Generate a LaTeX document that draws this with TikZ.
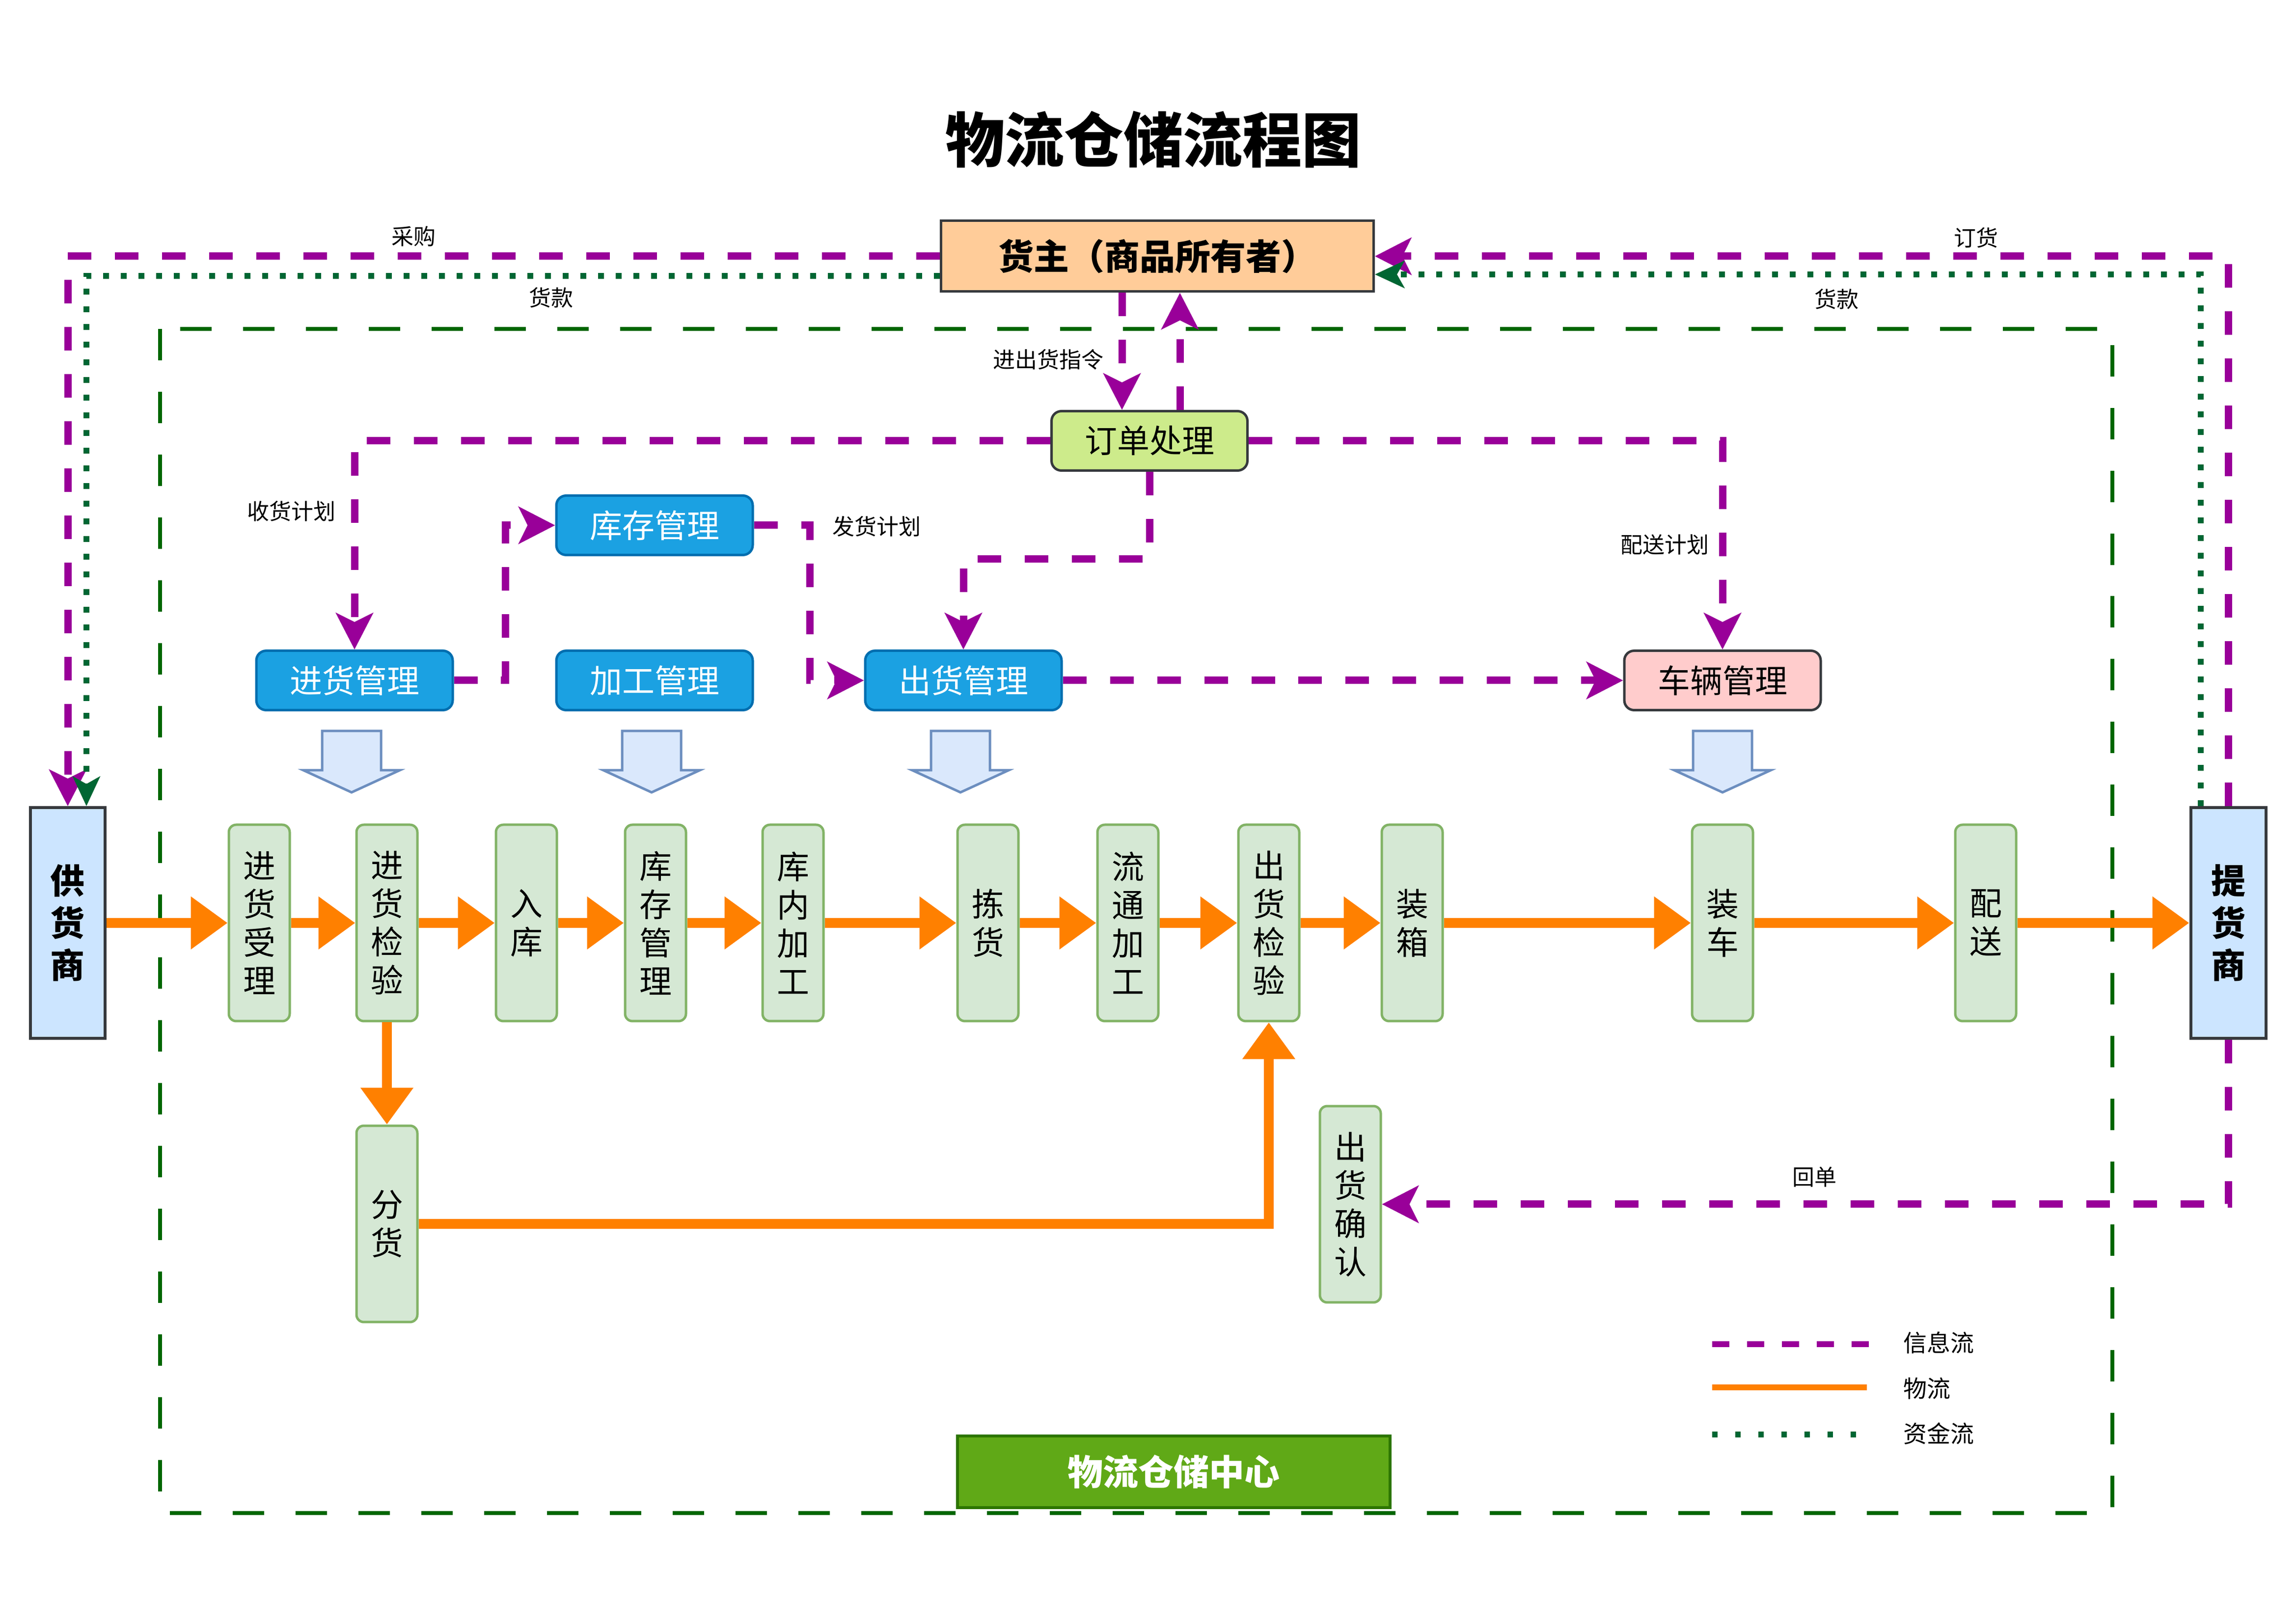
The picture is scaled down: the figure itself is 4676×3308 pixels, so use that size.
\documentclass[tikz,border=0pt]{standalone}
\usepackage{fontspec}
\setmainfont{Noto Sans CJK SC}
\usetikzlibrary{arrows.meta,calc}
\definecolor{infoc}{HTML}{990099}
\definecolor{flowc}{HTML}{FF8000}
\definecolor{moneyc}{HTML}{006633}
\definecolor{bordc}{HTML}{006600}
\definecolor{darkb}{HTML}{36393D}
\definecolor{procfill}{HTML}{D5E8D4}
\definecolor{procdraw}{HTML}{82B366}
\definecolor{mgmtfill}{HTML}{1BA1E2}
\definecolor{mgmtdraw}{HTML}{006EAF}
\definecolor{ownerfill}{HTML}{FFCC99}
\definecolor{orderfill}{HTML}{CDEB8B}
\definecolor{vehfill}{HTML}{FFCCCC}
\definecolor{partyfill}{HTML}{CCE5FF}
\definecolor{centerfill}{HTML}{60A917}
\definecolor{centerdraw}{HTML}{2D7600}
\definecolor{arrfill}{HTML}{DAE8FC}
\definecolor{arrdraw}{HTML}{6C8EBF}
\begin{document}
\begin{tikzpicture}[x=0.1pt,y=-0.1pt,
  infoline/.style={draw=infoc,line width=1.5pt,dash pattern=on 4.8pt off 4.8pt,-{Stealth[length=7.4pt,width=7.5pt,inset=1.8pt]}},
  flowline/.style={draw=flowc,line width=2pt,-{Triangle[length=7.5pt,width=10.3pt]}},
  moneyline/.style={draw=moneyc,line width=1.2pt,dash pattern=on 1.2pt off 2.4pt,-{Stealth[length=6pt,width=5.5pt,inset=1.5pt]}},
  procbox/.style={draw=procdraw,fill=procfill,rounded corners=1.5pt,line width=0.5pt,minimum width=12.4pt,minimum height=40pt,inner sep=0pt,align=center,font=\fontsize{6.6}{7.8}\selectfont},
  mgmtbox/.style={draw=mgmtdraw,fill=mgmtfill,text=white,rounded corners=2pt,line width=0.5pt,minimum width=40pt,minimum height=12.1pt,inner sep=0pt,font=\fontsize{6.6}{7.8}\selectfont},
  partybox/.style={draw=darkb,fill=partyfill,line width=0.6pt,minimum width=15.3pt,minimum height=47pt,inner sep=0pt,align=center,font=\fontsize{7}{8.6}\selectfont\bfseries},
  lbl/.style={inner sep=0pt,font=\fontsize{4.5}{5.4}\selectfont},
  legendtext/.style={inner sep=0pt,font=\fontsize{4.8}{5.6}\selectfont},
  blockarrow/.style={fill=arrfill,draw=arrdraw,line width=0.5pt,line join=miter},
  downarrow/.pic={\draw[blockarrow] (-60,0) -- (60,0) -- (60,80) -- (98,80) -- (0,125) -- (-98,80) -- (-60,80) -- cycle;}
]
\useasboundingbox (0,0) rectangle (4676,3308);
\fill[white] (0,0) rectangle (4676,3308);

% boundary of the warehouse centre
\draw[draw=bordc,line width=0.8pt,dash pattern=on 6.4pt off 6.4pt] (326,670) rectangle (4302,3082);

% title
\node[font=\fontsize{12.1}{14}\selectfont\bfseries,inner sep=0pt] (title) at (2349,284) {物流仓储流程图};

% main nodes
\node[draw=darkb,fill=ownerfill,line width=0.5pt,minimum width=88.1pt,minimum height=14.4pt,inner sep=0pt,font=\fontsize{7.2}{8}\selectfont\bfseries] (owner) at (2357,522) {货主（商品所有者）};
\node[draw=darkb,fill=orderfill,rounded corners=2pt,line width=0.5pt,minimum width=39.9pt,minimum height=12.1pt,inner sep=0pt,font=\fontsize{6.6}{7.8}\selectfont] (order) at (2341,898) {订单处理};
\node[mgmtbox] (stock) at (1333,1070) {库存管理};
\node[mgmtbox] (inbound) at (722,1386) {进货管理};
\node[mgmtbox] (procm) at (1333,1386) {加工管理};
\node[mgmtbox] (outbound) at (1962,1386) {出货管理};
\node[mgmtbox,fill=vehfill,draw=darkb,text=black] (vehicle) at (3508,1386) {车辆管理};

\node[partybox] (supplier) at (138,1880) {供\\货\\商};
\node[partybox] (customer) at (4538,1880) {提\\货\\商};

\node[procbox] (p1) at (528,1880) {进\\货\\受\\理};
\node[procbox] (p2) at (788,1880) {进\\货\\检\\验};
\node[procbox] (p3) at (1072,1880) {入\\库};
\node[procbox] (p4) at (1335,1880) {库\\存\\管\\理};
\node[procbox] (p5) at (1615,1880) {库\\内\\加\\工};
\node[procbox] (p6) at (2012,1880) {拣\\货};
\node[procbox] (p7) at (2297,1880) {流\\通\\加\\工};
\node[procbox] (p8) at (2584,1880) {出\\货\\检\\验};
\node[procbox] (p9) at (2876,1880) {装\\箱};
\node[procbox] (p10) at (3508,1880) {装\\车};
\node[procbox] (p11) at (4044,1880) {配\\送};
\node[procbox] (fen) at (788,2493) {分\\货};
\node[procbox] (confirm) at (2750,2453) {出\\货\\确\\认};

\node[draw=centerdraw,fill=centerfill,line width=0.6pt,minimum width=88.1pt,minimum height=14.6pt,inner sep=0pt,text=white,font=\fontsize{7.2}{8}\selectfont\bfseries] (centre) at (2390,2998) {物流仓储中心};

% block arrows under management boxes
\pic at (716,1489) {downarrow};
\pic at (1327,1489) {downarrow};
\pic at (1956,1489) {downarrow};
\pic at (3508,1489) {downarrow};

% material flow
\draw[flowline] (supplier.east) -- (p1.west);
\draw[flowline] (p1.east) -- (p2.west);
\draw[flowline] (p2.east) -- (p3.west);
\draw[flowline] (p3.east) -- (p4.west);
\draw[flowline] (p4.east) -- (p5.west);
\draw[flowline] (p5.east) -- (p6.west);
\draw[flowline] (p6.east) -- (p7.west);
\draw[flowline] (p7.east) -- (p8.west);
\draw[flowline] (p8.east) -- (p9.west);
\draw[flowline] (p9.east) -- (p10.west);
\draw[flowline] (p10.east) -- (p11.west);
\draw[flowline] (p11.east) -- (customer.west);
\draw[flowline] (p2.south) -- (fen.north);
\draw[flowline] (fen.east) -| (p8.south);

% information flow
\draw[infoline] (owner.west) -| (supplier.north);
\draw[infoline] (customer.north) |- (owner.east);
\coordinate (oa) at ($(order.north)+(-56,0)$);
\coordinate (ob) at ($(order.north)+(62,0)$);
\draw[infoline] (owner.south -| oa) -- (oa);
\draw[infoline] (ob) -- (owner.south -| ob);
\draw[infoline] (order.west) -| (inbound.north);
\draw[infoline] (order.east) -| (vehicle.north);
\draw[infoline] (order.south) |- ($(outbound.north)+(0,-184)$) -- (outbound.north);
\draw[infoline] (inbound.east) -- ++(105,0) |- (stock.west);
\draw[infoline] (stock.east) -- ++(114,0) |- (outbound.west);
\draw[infoline] (outbound.east) -- (vehicle.west);
\draw[infoline] (customer.south) |- (confirm.east);

% money flow
\draw[moneyline] ($(owner.west)+(0,40)$) -| ($(supplier.north)+(38,0)$);
\draw[moneyline] ($(customer.north)+(-56,0)$) |- ($(owner.east)+(0,37)$);

% labels
\node[lbl] (l1) at (842,481) {采购};
\node[lbl] (l2) at (1122,606) {货款};
\node[lbl] (l3) at (4024,484) {订货};
\node[lbl] (l4) at (3740,609) {货款};
\node[lbl] (l5) at (3695,2397) {回单};
\node[lbl] (l6) at (2135,732) {进出货指令};
\node[lbl] (l7) at (593,1041) {收货计划};
\node[lbl] (l8) at (1785,1072) {发货计划};
\node[lbl] (l9) at (3390,1109) {配送计划};

% legend
\coordinate (lga) at (3487,2738);
\coordinate (lgb) at (3806,2738);
\coordinate (lgc) at (3487,2826);
\coordinate (lgd) at (3802,2826);
\coordinate (lge) at (3487,2922);
\coordinate (lgf) at (3780,2922);
\draw[draw=infoc,line width=1.2pt,dash pattern=on 3.5pt off 3.6pt] (lga) -- (lgb);
\draw[draw=flowc,line width=1.2pt] (lgc) -- (lgd);
\draw[draw=moneyc,line width=1.2pt,dash pattern=on 1.1pt off 3.6pt] (lge) -- (lgf);
\node[legendtext,anchor=west] (lt1) at (3874,2735) {信息流};
\node[legendtext,anchor=west] (lt2) at (3874,2828) {物流};
\node[legendtext,anchor=west] (lt3) at (3874,2920) {资金流};
\end{tikzpicture}
\end{document}
